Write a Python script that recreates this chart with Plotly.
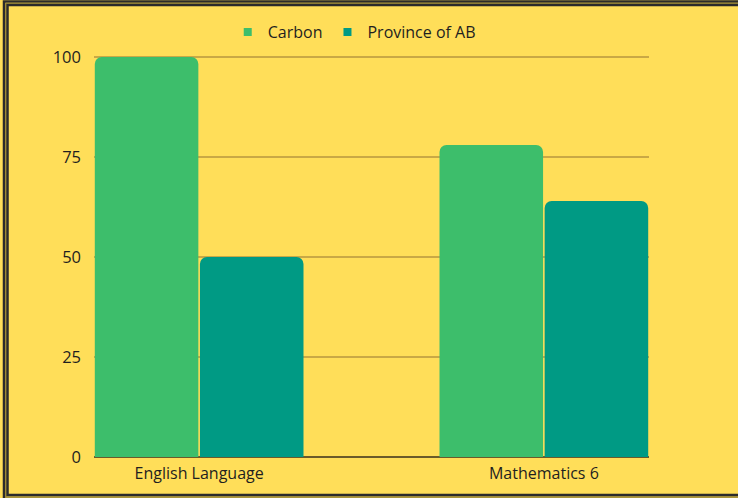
import plotly.graph_objects as go

categories = ["English Language", "Mathematics 6"]
carbon = [100, 78]
province = [50, 64]

W, H = 738, 498
ML, MR, MT, MB = 94, 89, 53, 41
PW, PH = W - ML - MR, H - MT - MB


def px_x(x):
    return (x - ML) / PW


def px_y(y):
    return 1 - (y - MT) / PH


fig = go.Figure()
fig.add_trace(go.Bar(x=categories, y=carbon, name="Carbon", showlegend=False,
                     marker=dict(color="#3DBE6B", line=dict(width=0))))
fig.add_trace(go.Bar(x=categories, y=province, name="Province of AB", showlegend=False,
                     marker=dict(color="#009A84", line=dict(width=0))))
# legend entries with small square swatches
fig.add_trace(go.Scatter(x=[None], y=[None], mode="markers", name="Carbon",
                         marker=dict(symbol="square", size=8, color="#3DBE6B")))
fig.add_trace(go.Scatter(x=[None], y=[None], mode="markers", name="Province of AB",
                         marker=dict(symbol="square", size=8, color="#009A84")))

# double dark frame (left, top, bottom visible; right runs off the page)
frame = [  # (left, top, bottom, width, colour)
    (4, 1.5, 499, 2.5, "#2b2b2b"),
    (5.8, 3.2, 497, 1.0, "#8c7a2c"),
    (7.5, 5, 495, 2.5, "#2b2b2b"),
]
for left, top, bottom, lw, col in frame:
    fig.add_shape(type="rect", xref="paper", yref="paper",
                  x0=px_x(left), x1=px_x(W + 200), y0=px_y(bottom), y1=px_y(top),
                  line=dict(color=col, width=lw), layer="above")

fig.update_layout(
    width=W, height=H,
    margin=dict(l=ML, r=MR, t=MT, b=MB, autoexpand=False),
    paper_bgcolor="#FFDE59", plot_bgcolor="#FFDE59",
    barmode="group", bargap=0.39, bargroupgap=0.015, barcornerradius=7,
    font=dict(family="Open Sans", size=16, color="#1f1f1f"),
    legend=dict(orientation="h", x=0.48, xanchor="center", xref="container",
                y=1 - 32 / H, yanchor="middle", yref="container", font=dict(size=16),
                bgcolor="rgba(0,0,0,0)", itemwidth=30),
    xaxis=dict(range=[-0.305, 1.305], showgrid=False, showline=False, zeroline=False,
               ticks="", tickangle=0, ticklabelstandoff=5, tickfont=dict(size=16)),
    yaxis=dict(range=[0, 101], tickvals=[0, 25, 50, 75, 100], showgrid=True,
               gridcolor="#C9A845", gridwidth=1.5, zeroline=True, zerolinecolor="#6B5A2A",
               zerolinewidth=1.5, showline=False, ticks="", ticklabelstandoff=12,
               tickfont=dict(size=16.5)),
)

fig.write_html("out.html", config={"displayModeBar": False},
               post_script="document.body.style.margin='0';")
